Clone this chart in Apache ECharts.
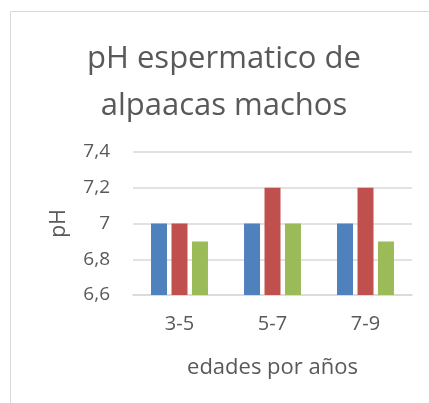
<!DOCTYPE html>
<html><head><meta charset="utf-8">
<script src="https://cdn.jsdelivr.net/npm/echarts@6/dist/echarts.min.js"></script>
<style>html,body{margin:0;padding:0;background:#fff}#c{width:429px;height:403px}</style>
</head><body><div id="c"></div>
<script>
const categories = ['3-5', '5-7', '7-9'];
const serieA = [7, 7, 7];
const serieB = [7, 7.2, 7.2];
const serieC = [6.9, 7, 6.9];
const yTicks = { min: 6.6, max: 7.4, interval: 0.2 };

const chart = echarts.init(document.getElementById('c'));
const font = '"Open Sans", "Noto Sans", sans-serif';
const txt = '#595959';
function bar(data, color) {
  return { type: 'bar', data: data, barWidth: 16, barGap: '28%', itemStyle: { color: color } };
}
chart.setOption({
  animation: false,
  graphic: [{ type: 'rect', shape: { x: 10.5, y: 11.5, width: 600, height: 600 },
    style: { fill: 'none', stroke: '#d9d9d9', lineWidth: 1 }, silent: true }],
  title: {
    text: 'pH espermatico de\nalpaacas machos', left: 219, top: 31, textAlign: 'center',
    textStyle: { fontFamily: font, fontSize: 31, fontWeight: 'normal', color: txt, lineHeight: 47 }
  },
  grid: { left: 133, right: 17, top: 152, bottom: 108, containLabel: false },
  xAxis: {
    type: 'category', data: categories,
    name: 'edades por años', nameLocation: 'middle', nameGap: 62,
    nameTextStyle: { fontFamily: font, fontSize: 22, color: txt },
    axisLine: { lineStyle: { color: '#d9d9d9', width: 1.5 } },
    axisTick: { show: false },
    axisLabel: { fontFamily: font, fontSize: 20, color: txt, margin: 19 }
  },
  yAxis: {
    type: 'value', min: yTicks.min, max: yTicks.max, interval: yTicks.interval,
    name: 'pH', nameLocation: 'middle', nameGap: 63, nameRotate: 90,
    nameTextStyle: { fontFamily: font, fontSize: 21, color: txt },
    axisLine: { show: false }, axisTick: { show: false },
    splitLine: { lineStyle: { color: '#d9d9d9', width: 1.5 } },
    axisLabel: {
      fontFamily: font, fontSize: 19, color: txt, margin: 23,
      formatter: v => String(Math.round(v * 10) / 10).replace('.', ',')
    }
  },
  series: [bar(serieA, '#4f81bd'), bar(serieB, '#c0504d'), bar(serieC, '#9bbb59')]
});
</script></body></html>
